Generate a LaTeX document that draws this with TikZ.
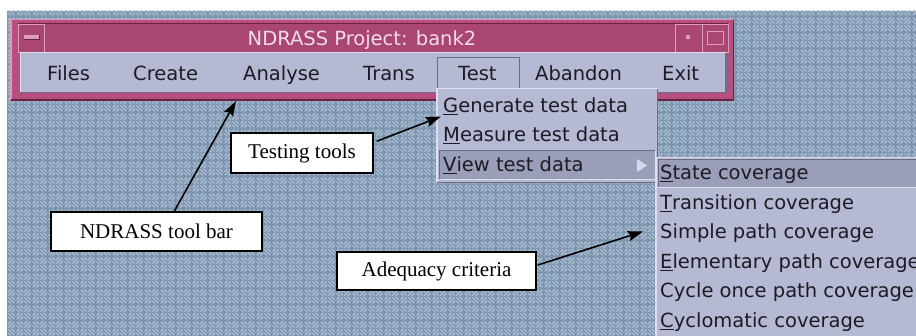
\documentclass[tikz,border=0pt]{standalone}
\usepackage{fontspec}
\setmainfont{Liberation Serif}
\newfontfamily\uifont{DejaVu Sans}
\usetikzlibrary{arrows.meta,calc,patterns}
\definecolor{bgblue}{HTML}{7D96B0}
\definecolor{bgline}{HTML}{B2C2D6}
\definecolor{framepink}{HTML}{B64F7D}
\definecolor{titlepink}{HTML}{AA4672}
\definecolor{pinklight}{HTML}{DE9CBB}
\definecolor{pinkdark}{HTML}{6A2243}
\definecolor{menugray}{HTML}{B5B9D3}
\definecolor{menudark}{HTML}{9A9EB8}
\definecolor{menuhi}{HTML}{DDDFEE}
\definecolor{menushadow}{HTML}{6C6E86}
\definecolor{titletext}{HTML}{F2DCE8}
\definecolor{uitext}{HTML}{1C1C24}
\pgfdeclarepatternformonly{weave}{\pgfpointorigin}{\pgfpoint{16pt}{16pt}}{\pgfpoint{16pt}{16pt}}{%
  \pgfsetlinewidth{1.2pt}%
  \pgfpathmoveto{\pgfpoint{0.6pt}{4.6pt}}\pgfpathlineto{\pgfpoint{3.4pt}{7.4pt}}%
  \pgfpathmoveto{\pgfpoint{1pt}{1pt}}\pgfpathlineto{\pgfpoint{7pt}{7pt}}%
  \pgfpathmoveto{\pgfpoint{4.6pt}{0.6pt}}\pgfpathlineto{\pgfpoint{7.4pt}{3.4pt}}%
  \pgfpathmoveto{\pgfpoint{8.6pt}{12.6pt}}\pgfpathlineto{\pgfpoint{11.4pt}{15.4pt}}%
  \pgfpathmoveto{\pgfpoint{9pt}{9pt}}\pgfpathlineto{\pgfpoint{15pt}{15pt}}%
  \pgfpathmoveto{\pgfpoint{12.6pt}{8.6pt}}\pgfpathlineto{\pgfpoint{15.4pt}{11.4pt}}%
  \pgfpathmoveto{\pgfpoint{8.6pt}{3.4pt}}\pgfpathlineto{\pgfpoint{11.4pt}{0.6pt}}%
  \pgfpathmoveto{\pgfpoint{9pt}{7pt}}\pgfpathlineto{\pgfpoint{15pt}{1pt}}%
  \pgfpathmoveto{\pgfpoint{12.6pt}{7.4pt}}\pgfpathlineto{\pgfpoint{15.4pt}{4.6pt}}%
  \pgfpathmoveto{\pgfpoint{0.6pt}{11.4pt}}\pgfpathlineto{\pgfpoint{3.4pt}{8.6pt}}%
  \pgfpathmoveto{\pgfpoint{1pt}{15pt}}\pgfpathlineto{\pgfpoint{7pt}{9pt}}%
  \pgfpathmoveto{\pgfpoint{4.6pt}{15.4pt}}\pgfpathlineto{\pgfpoint{7.4pt}{12.6pt}}%
  \pgfusepath{stroke}%
}
\tikzset{
  ui/.style={font=\uifont\fontsize{19.5}{22}\selectfont, text=uitext, inner sep=0pt, anchor=base west},
  callout/.style={draw=black, fill=white, line width=1.5pt, inner sep=0pt,
    font=\fontsize{21}{24}\selectfont, text=black},
  arr/.style={line width=1.6pt, -{Stealth[length=15pt,width=10pt,inset=2pt]}},
  winbtn/.style={draw=pinklight, line width=1pt, inner sep=0pt, anchor=north west, minimum height=28pt},
}
\begin{document}
\begin{tikzpicture}[x=1pt,y=-1pt]
\useasboundingbox (0,0) rectangle (916,336);
\fill[white] (0,0) rectangle (916,336);
% desktop background
\fill[bgblue] (7,11) rectangle (916,336);
\fill[pattern=weave, pattern color=bgline] (7,11) rectangle (916,336);

% window frame
\fill[framepink] (10,19) rectangle (734,101);
\draw[pinklight, line width=1.5pt] (10.75,100.25) -- (10.75,19.75) -- (733.25,19.75);
\draw[pinkdark, line width=1.5pt] (733.25,19.75) -- (733.25,100.25) -- (10.75,100.25);
% title bar
\fill[titlepink] (18,24) rectangle (728,52);
\draw[pinkdark, line width=1pt] (18,52) -- (18,24) -- (728,24);
\draw[pinklight, line width=1pt] (728,24) -- (728,52);
% window buttons
\node[winbtn, minimum width=26pt] (minbtn) at (18,24) {};
\fill[pinklight] (24,35) rectangle (39,40);
\draw[pinkdark, line width=1pt] (24,40) -- (39,40) -- (39,35);
\node[winbtn, minimum width=27pt] (dotbtn) at (675,24) {};
\fill[pinklight] (686,35) rectangle (690,39);
\node[winbtn, minimum width=26pt] (maxbtn) at (702,24) {};
\draw[pinklight, line width=1pt] (707,32) rectangle (723,45);
% title text
\node[font=\uifont\fontsize{19.5}{22}\selectfont, text=titletext, inner sep=0pt, anchor=base] (title) at (362,46) {NDRASS Project: bank2};

% menu bar
\fill[menugray] (20,53) rectangle (726,92);
\draw[menuhi, line width=1pt] (20,92) -- (20,53) -- (726,53);
\draw[menushadow, line width=1.5pt] (726,53) -- (726,92.5) -- (20,92.5);
\node[ui] (files) at (47,81) {Files};
\node[ui] (create) at (133,81) {Create};
\node[ui] (analyse) at (243,81) {Analyse};
\node[ui] (trans) at (363,81) {Trans};
\draw[menushadow, line width=1pt] (437,90) -- (437,58) -- (519,58) -- (519,90);
\node[ui] (test) at (458,81) {Test};
\node[ui] (abandon) at (535,81) {Abandon};
\node[ui] (exit) at (662,81) {Exit};

% dropdown menu
\fill[menugray] (436,88) rectangle (658,183);
\draw[menuhi, line width=1.5pt] (436.75,183) -- (436.75,88.75) -- (658,88.75);
\draw[menushadow, line width=1pt] (657.5,88.75) -- (657.5,182.5) -- (436.75,182.5);
\fill[menudark] (439,151) rectangle (655,180);
\draw[menushadow, line width=1pt] (439,180) -- (439,151) -- (655,151);
\draw[menuhi, line width=1pt] (655,151) -- (655,180) -- (439,180);
\fill[menuhi!85!menugray] (637,159) -- (647,165.5) -- (637,172) -- cycle;
\node[ui] (gen) at (443,113) {\underline{G}enerate test data};
\node[ui] (meas) at (443,142) {\underline{M}easure test data};
\node[ui] (view) at (443,172) {\underline{V}iew test data};

% submenu
\fill[menugray] (655,157) rectangle (916,336);
\draw[menuhi, line width=1.5pt] (655.75,336) -- (655.75,157.75) -- (916,157.75);
\fill[menudark] (658,160) rectangle (916,188);
\draw[menushadow, line width=1pt] (658,188) -- (658,160) -- (916,160);
\draw[menuhi, line width=1pt] (658,188) -- (916,188);
\node[ui] (state) at (660,180) {\underline{S}tate coverage};
\node[ui] (trcov) at (660,210) {\underline{T}ransition coverage};
\node[ui] (simple) at (660,239) {Simple path coverage};
\node[ui] (elem) at (660,269) {\underline{E}lementary path coverage};
\node[ui] (cycle) at (660,298) {Cycle once path coverage};
\node[ui] (cyclo) at (660,328) {\underline{C}yclomatic coverage};

% callouts
\node[callout, minimum width=142pt, minimum height=40pt] (tt) at (302,153) {Testing tools};
\node[callout, minimum width=211pt, minimum height=39pt] (nb) at (156.5,231.5) {NDRASS tool bar};
\node[callout, minimum width=199pt, minimum height=38pt] (ad) at (436.5,271) {Adequacy criteria};

\coordinate (tttip) at (441,116.5);
\coordinate (nbtip) at (236,101);
\coordinate (adtip) at (643,231.5);
\draw[arr] ($(tt.north east)+(3,9)$) -- (tttip);
\draw[arr] ($(nb.north west)+(124,0)$) -- (nbtip);
\draw[arr] ($(ad.east)+(1,-6)$) -- (adtip);
\end{tikzpicture}
\end{document}
